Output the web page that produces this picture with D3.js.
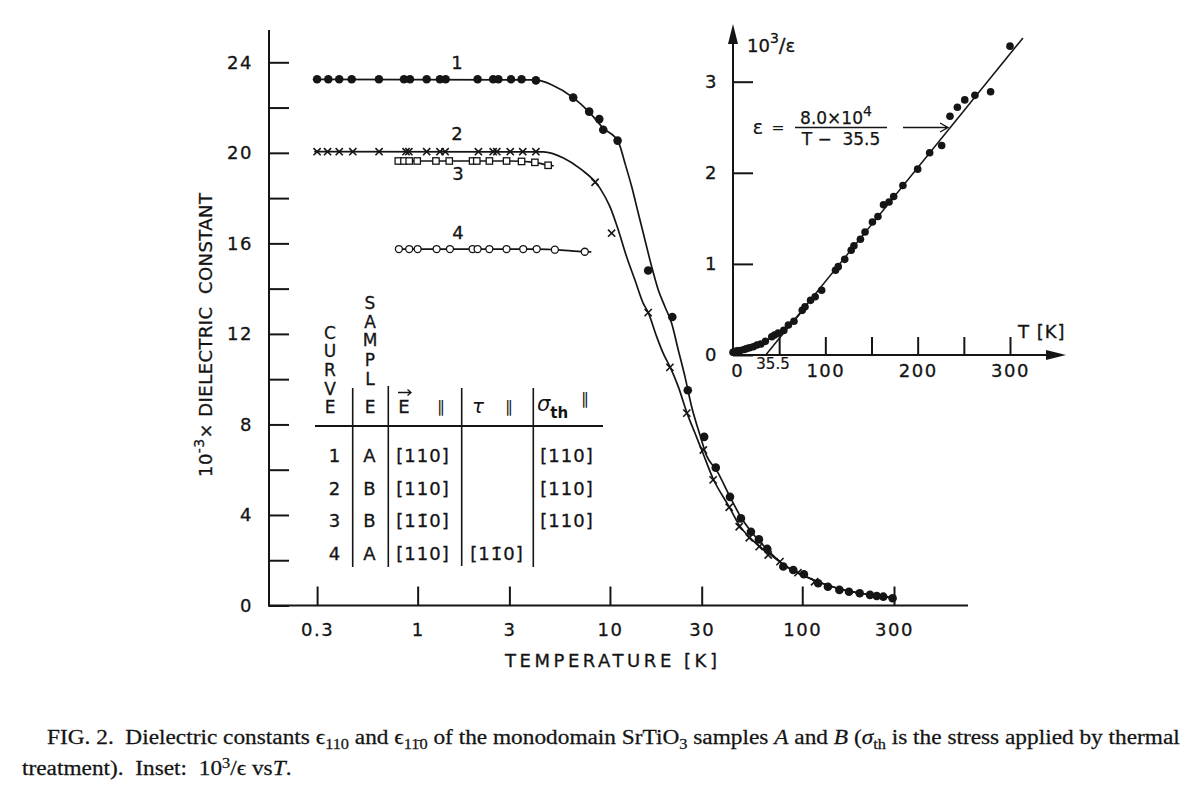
<!DOCTYPE html>
<html><head><meta charset="utf-8">
<script src="https://cdn.jsdelivr.net/npm/d3@7"></script>
<style>
body{margin:0;background:#fff}
svg{display:block}
text{font-family:"DejaVu Sans",sans-serif;fill:#141414;white-space:pre}
</style>
</head><body>
<svg id="c" width="1200" height="796"></svg>
<script>
// ---------------- DATA ----------------
const xTickValues = [0.3, 1, 3, 10, 30, 100, 300];
const xTickLabels = ["0.3", "1", "3", "10", "30", "100", "300"];
const yTickValues = [0, 4, 8, 12, 16, 20, 24];
const yMinorTicks = [2, 6, 10, 14, 18, 22];

// curve 1 (sample A, filled dots): [T (K), 10^-3 eps]
const curve1Points = [[0.30,23.25],[0.343,23.25],[0.391,23.25],[0.454,23.25],[0.629,23.25],[0.849,23.25],[0.912,23.25],[1.114,23.25],[1.306,23.25],[1.398,23.25],[2.05,23.25],[2.47,23.25],[2.63,23.25],[3.06,23.25],[3.47,23.25],[4.12,23.2],
  [6.44,22.44],[7.80,21.82],[8.80,21.49],[9.23,21.02],[10.96,20.54],[15.8,14.80],[21.1,12.75],[25.4,9.51],[30.9,7.45],[35.5,6.09],[42.1,4.80],[48.0,3.85],[54.1,3.26],[59.5,2.92],[65.8,2.50],[79.7,1.72],[89.8,1.57],[102,1.38],[121,0.98],[136,0.83],[156,0.69],[175,0.61],[199,0.54],[225,0.47],[244,0.42],[264,0.39],[295,0.32]];
const curve1Line = [[0.29,23.25],[4.1,23.22],[5.0,23.0],[6.44,22.44],[7.8,21.8],[9.23,21.09],[11.05,20.49],[11.97,19.54],[12.97,18.51],[14.04,17.33],[15.21,16.15],[16.48,14.97],[17.84,13.94],[19.32,13.2],[20.93,12.47],[22.66,11.29],[24.55,10.11],[26.6,8.78],[29.4,7.53],[31.8,6.62],[36,5.95],[42,4.82],[48,3.9],[55,3.2],[65,2.52],[80,1.8],[100,1.35],[130,0.95],[170,0.66],[220,0.49],[300,0.34]];

// curve 2 (sample B, crosses)
const curve2Points = [[0.30,20.05],[0.34,20.05],[0.391,20.05],[0.46,20.05],[0.63,20.05],[0.87,20.05],[0.90,20.05],[1.114,20.05],[1.306,20.05],[1.39,20.05],[2.07,20.05],[2.47,20.05],[2.58,20.05],[3.03,20.05],[3.52,20.05],[4.12,20.05],
  [8.37,18.70],[10.2,16.45],[15.8,12.94],[20.5,10.52],[25.1,8.5],[30.6,6.87],[34.4,5.55],[41.7,4.34],[47.0,3.48],[53.0,2.99],[59.7,2.60],[66.5,2.23],[76.6,1.94],[95,1.45],[116,1.05]];
const curve2Line = [[0.29,20.05],[4.5,20.04],[5.73,19.77],[7,19.3],[8.87,18.44],[10,17.62],[11.05,16.59],[12.21,15.41],[13.49,14.38],[14.9,13.35],[15.82,12.94],[17.49,11.88],[18.93,11.14],[20.51,10.55],[22.66,9.67],[25.2,8.49],[27.7,7.61],[30,6.87],[34.4,5.6],[41.7,4.36],[47,3.55],[53,3.02],[60,2.62],[67,2.3],[80,1.8],[100,1.35],[130,0.95],[170,0.66],[220,0.49],[300,0.34]];

// curve 3 (sample B, open squares)
const curve3Points = [[0.793,19.64],[0.849,19.64],[0.904,19.64],[0.995,19.64],[1.245,19.64],[1.46,19.64],[1.93,19.64],[2.03,19.64],[2.36,19.64],[2.90,19.64],[3.47,19.62],[4.07,19.58],[4.77,19.45]];
const curve3Line = [[0.79,19.64],[3.0,19.64],[4.07,19.58],[4.77,19.45],[5.1,19.42]];

// curve 4 (sample A, open circles)
const curve4Points = [[0.799,15.75],[0.904,15.75],[1.0,15.75],[1.255,15.75],[1.472,15.75],[1.93,15.75],[2.05,15.75],[2.36,15.75],[2.90,15.75],[3.54,15.75],[4.16,15.75],[5.17,15.72],[7.40,15.63]];
const curve4Line = [[0.79,15.75],[4.2,15.75],[5.17,15.72],[7.4,15.63],[8.0,15.62]];

const curveLabels = ["1", "2", "3", "4"];
const curveLabelPos = [[1.6,24.0],[1.6,20.85],[1.62,19.1],[1.62,16.5]];

// inset: 10^3/eps vs T
const insetT = [0,3,5,8,12,15,18,22,26,30,35,42,45,49,55,60,66,75,78,84,89,96,111,114,121,128,131,138,143,151,157,163,169,174,184,200,213,226,235,243,251,262,279,300];
const insetV = [0.03,0.04,0.045,0.05,0.06,0.07,0.08,0.09,0.11,0.12,0.15,0.20,0.22,0.24,0.27,0.33,0.37,0.49,0.53,0.60,0.64,0.71,0.93,0.97,1.05,1.15,1.20,1.27,1.35,1.46,1.52,1.65,1.68,1.74,1.86,2.04,2.22,2.30,2.62,2.72,2.80,2.85,2.89,3.39];
const insetLowCurve = [[0,0.03],[10,0.05],[20,0.085],[30,0.13],[40,0.18],[50,0.245],[60,0.32],[70,0.42],[80,0.556]];
const insetFit = [[35.5,0],[314,3.48]];
const insetXTicks = [50,100,150,200,250,300];
const insetXLabels = {100:"100",200:"200",300:"300"};
const insetYTicks = [0,1,2,3];

// table
const tableCurve = ["1","2","3","4"];
const tableSample = ["A","B","B","A"];
const tableE = ["[110]","[110]","[11\u03040]","[110]"];
const tableTau = ["","","","[11\u03040]"];
const tableSigma = ["[110]","[110]","[110]",""];

// ---------------- DRAW ----------------
const ink = "#151515";
const svg = d3.select("#c");
svg.append("rect").attr("width",1200).attr("height",796).attr("fill","#fff");

const X = d3.scaleLog().domain([0.3,300]).range([317.1,894.0]);
const Y = d3.scaleLinear().domain([0,24]).range([605.5,62.3]);
const AX = 269, AY = 605.5;

svg.append("line").attr("x1",AX).attr("x2",AX).attr("y1",30).attr("y2",AY+1).attr("stroke",ink).attr("stroke-width",2);
svg.append("line").attr("x1",AX-1).attr("x2",968).attr("y1",AY).attr("y2",AY).attr("stroke",ink).attr("stroke-width",2);

function styleAxis(g, fs){
  g.select(".domain").remove();
  g.selectAll(".tick line").attr("stroke",ink).attr("stroke-width",2);
  g.selectAll(".tick text").attr("font-size",fs).attr("font-family","'DejaVu Sans',sans-serif").attr("fill",ink)
    .attr("letter-spacing",1.5).attr("stroke",ink).attr("stroke-width",0.3);
}
const gy = svg.append("g").attr("transform",`translate(${AX},0)`)
  .call(d3.axisLeft(Y).tickValues(yTickValues).tickSizeInner(-20).tickSizeOuter(0).tickPadding(16).tickFormat(d3.format("d")));
styleAxis(gy,18);
const gy2 = svg.append("g").attr("transform",`translate(${AX},0)`)
  .call(d3.axisLeft(Y).tickValues(yMinorTicks).tickSizeInner(-20).tickSizeOuter(0).tickFormat(""));
styleAxis(gy2,18);
const gx = svg.append("g").attr("transform",`translate(0,${AY})`)
  .call(d3.axisBottom(X).tickValues(xTickValues).tickSizeInner(-19).tickSizeOuter(0).tickPadding(18)
    .tickFormat((d,i)=>xTickLabels[i]));
styleAxis(gx,18);

svg.append("text").attr("x",611).attr("y",667).attr("text-anchor","middle").attr("font-size",18)
  .attr("stroke",ink).attr("stroke-width",0.3)
  .attr("textLength",212).attr("lengthAdjust","spacing").text("TEMPERATURE [K]");
const yl = svg.append("text").attr("transform","translate(212,335) rotate(-90)").attr("text-anchor","middle")
  .attr("font-size",18).attr("stroke",ink).attr("stroke-width",0.3).attr("textLength",284).attr("lengthAdjust","spacing");
yl.append("tspan").text("10");
yl.append("tspan").attr("font-size",14).attr("baseline-shift","8").text("-3");
yl.append("tspan").text("\u00d7 DIELECTRIC  CONSTANT");

// curves
const lineMain = d3.line().x(d=>X(d[0])).y(d=>Y(d[1])).curve(d3.curveMonotoneX);
[curve1Line,curve2Line,curve3Line,curve4Line].forEach(L=>{
  svg.append("path").attr("d",lineMain(L)).attr("fill","none").attr("stroke",ink).attr("stroke-width",1.7);
});
svg.append("g").selectAll("circle").data(curve1Points).join("circle")
  .attr("cx",d=>X(d[0])).attr("cy",d=>Y(d[1])).attr("r",4.3).attr("fill",ink);
svg.append("g").selectAll("path").data(curve2Points).join("path")
  .attr("d",d=>{const x=X(d[0]),y=Y(d[1]),s=3.6;return `M${x-s},${y-s}L${x+s},${y+s}M${x-s},${y+s}L${x+s},${y-s}`;})
  .attr("stroke",ink).attr("stroke-width",1.6).attr("fill","none");
svg.append("g").selectAll("rect").data(curve3Points).join("rect")
  .attr("x",d=>X(d[0])-3.2).attr("y",d=>Y(d[1])-3.2).attr("width",6.4).attr("height",6.4)
  .attr("fill","#fff").attr("stroke",ink).attr("stroke-width",1.3);
svg.append("g").selectAll("circle").data(curve4Points).join("circle")
  .attr("cx",d=>X(d[0])).attr("cy",d=>Y(d[1])).attr("r",3.5)
  .attr("fill","#fff").attr("stroke",ink).attr("stroke-width",1.3);
svg.append("g").selectAll("text").data(curveLabels).join("text")
  .attr("x",(d,i)=>X(curveLabelPos[i][0])).attr("y",(d,i)=>Y(curveLabelPos[i][1])+6.5)
  .attr("text-anchor","middle").attr("font-size",18).attr("stroke",ink).attr("stroke-width",0.3).text(d=>d);

// ---------------- TABLE ----------------
const tb = svg.append("g");
function vert(word, x, ys){
  const t = tb.append("text").attr("text-anchor","middle").attr("font-size",17).attr("stroke",ink).attr("stroke-width",0.3);
  word.split("").forEach((ch,i)=>t.append("tspan").attr("x",x).attr("y",ys[i]+6.2).text(ch));
}
vert("CURVE",330,[333,351,369.5,388.5,407]);
vert("SAMPLE",370,[303,321.5,340,359.5,379,407]);
[[352.7,388,567],[388.3,386,567],[461.7,388,566],[533.3,388,567]].forEach(v=>
  tb.append("line").attr("x1",v[0]).attr("x2",v[0]).attr("y1",v[1]).attr("y2",v[2]).attr("stroke",ink).attr("stroke-width",1.6));
tb.append("line").attr("x1",315).attr("x2",603).attr("y1",426).attr("y2",426).attr("stroke",ink).attr("stroke-width",1.8);
tb.append("text").attr("x",404).attr("y",413).attr("text-anchor","middle").attr("font-size",18).attr("stroke",ink).attr("stroke-width",0.3).text("E");
tb.append("path").attr("d","M398,392.5H411M407.5,389.5L411,392.5L407.5,395.5").attr("stroke",ink).attr("stroke-width",1.3).attr("fill","none");
tb.append("text").attr("x",441).attr("y",412).attr("text-anchor","middle").attr("font-size",16).text("\u2225");
tb.append("text").attr("x",478).attr("y",413).attr("text-anchor","middle").attr("font-size",20).attr("font-style","italic").text("\u03c4");
tb.append("text").attr("x",509).attr("y",412).attr("text-anchor","middle").attr("font-size",16).text("\u2225");
const sg = tb.append("text").attr("x",537).attr("y",411).attr("font-size",21).attr("font-style","italic");
sg.append("tspan").text("\u03c3");
sg.append("tspan").attr("font-size",15).attr("font-style","normal").attr("font-weight","bold").attr("dy",7).text("th");
tb.append("text").attr("x",585).attr("y",404).attr("text-anchor","middle").attr("font-size",16).text("\u2225");
const rowY = [455,488.3,520,553.3];
const cols = [[tableCurve,335],[tableSample,370],[tableE,423],[tableTau,497],[tableSigma,567]];
cols.forEach(([arr,x])=>{
  tb.append("g").selectAll("text").data(arr).join("text")
    .attr("x",x).attr("y",(d,i)=>rowY[i]+6.5).attr("text-anchor","middle").attr("font-size",18)
    .attr("stroke",ink).attr("stroke-width",0.3).attr("letter-spacing",1).text(d=>d);
});

// ---------------- INSET ----------------
const XI = d3.scaleLinear().domain([0,300]).range([733,1010]);
const YI = d3.scaleLinear().domain([0,3]).range([355,81.7]);
const IX = 733, IY = 355;
svg.append("line").attr("x1",IX).attr("x2",IX).attr("y1",IY+1).attr("y2",40).attr("stroke",ink).attr("stroke-width",2);
svg.append("path").attr("d",`M${IX},24L${IX-5},44L${IX+5},44Z`).attr("fill",ink);
svg.append("line").attr("x1",IX-1).attr("x2",1050).attr("y1",IY).attr("y2",IY).attr("stroke",ink).attr("stroke-width",2);
svg.append("path").attr("d",`M1066,${IY}L1046,${IY-5}L1046,${IY+5}Z`).attr("fill",ink);

const giy = svg.append("g").attr("transform",`translate(${IX},0)`)
  .call(d3.axisLeft(YI).tickValues(insetYTicks).tickSizeInner(-20).tickSizeOuter(0).tickPadding(15).tickFormat(d3.format("d")));
styleAxis(giy,18);
const gix = svg.append("g").attr("transform",`translate(0,${IY})`)
  .call(d3.axisBottom(XI).tickValues(insetXTicks).tickSizeInner(-18).tickSizeOuter(0).tickPadding(9)
    .tickFormat(d=>insetXLabels[d]||""));
styleAxis(gix,18);
svg.append("text").attr("x",XI(0)+4).attr("y",377).attr("text-anchor","middle").attr("font-size",18).attr("stroke",ink).attr("stroke-width",0.3).text("0");
svg.append("text").attr("x",XI(0)+40).attr("y",369).attr("text-anchor","middle").attr("font-size",15).attr("stroke",ink).attr("stroke-width",0.2).text("35.5");

const lineIn = d3.line().x(d=>XI(d[0])).y(d=>YI(d[1]));
svg.append("path").attr("d",lineIn(insetFit)).attr("fill","none").attr("stroke",ink).attr("stroke-width",1.5);
svg.append("path").attr("d",lineIn.curve(d3.curveMonotoneX)(insetLowCurve)).attr("fill","none").attr("stroke",ink).attr("stroke-width",1.5);
svg.append("g").selectAll("circle").data(insetT).join("circle")
  .attr("cx",d=>XI(d)).attr("cy",(d,i)=>YI(insetV[i])).attr("r",3.8).attr("fill",ink);

const il = svg.append("text").attr("x",747).attr("y",52).attr("font-size",18).attr("stroke",ink).attr("stroke-width",0.3);
il.append("tspan").text("10");
il.append("tspan").attr("font-size",14).attr("dy",-9).text("3");
il.append("tspan").attr("dy",9).attr("font-size",20).text("/");
il.append("tspan").attr("font-size",18).text("\u03b5");
svg.append("text").attr("x",1018).attr("y",338).attr("font-size",18).attr("letter-spacing",1).attr("stroke",ink).attr("stroke-width",0.3).text("T [K]");

svg.append("text").attr("x",758).attr("y",134).attr("text-anchor","middle").attr("font-size",20).text("\u03b5");
svg.append("text").attr("x",778).attr("y",133).attr("text-anchor","middle").attr("font-size",16).text("=");
const num = svg.append("text").attr("x",836).attr("y",124).attr("text-anchor","middle").attr("font-size",17).attr("stroke",ink).attr("stroke-width",0.25);
num.append("tspan").text("8.0\u00d710");
num.append("tspan").attr("font-size",14).attr("dy",-8).text("4");
svg.append("line").attr("x1",795).attr("x2",887).attr("y1",127.5).attr("y2",127.5).attr("stroke",ink).attr("stroke-width",1.5);
svg.append("text").attr("x",841).attr("y",145).attr("text-anchor","middle").attr("font-size",17).attr("stroke",ink).attr("stroke-width",0.25).text("T \u2212  35.5");
svg.append("path").attr("d","M903,127.5H948M940,123L948,127.5L940,132").attr("fill","none").attr("stroke",ink).attr("stroke-width",1.4);

// ---------------- CAPTION ----------------
const cap1 = [["FIG. 2.  Dielectric constants ",""],["\u03f5",""],["110","sub"],[" and ",""],["\u03f5",""],["11\u03040","sub"],[" of the monodomain SrTiO",""],["3","sub"],[" samples ",""],["A","i"],[" and ",""],["B","i"],[" (",""],["\u03c3","i"],["th","sub"],[" is the stress applied by thermal",""]];
const cap2 = [["treatment).  Inset:  10",""],["3","sup"],["/\u03f5 vs",""],["T","i"],[".",""]];
function caption(parts){
  const t = svg.append("text").attr("y",0).attr("font-family","'Liberation Serif',serif").attr("font-size",20)
    .attr("stroke",ink).attr("stroke-width",0.25);
  parts.forEach(([s,k])=>{
    const sp = t.append("tspan").text(s).style("font-family","'Liberation Serif',serif");
    if(k==="sub") sp.attr("font-size",14).attr("baseline-shift","-5");
    if(k==="sup") sp.attr("font-size",14).attr("baseline-shift","7");
    if(k==="i") sp.attr("font-style","italic");
  });
  return t;
}
const c1 = caption(cap1), c2 = caption(cap2);
const w1 = c1.node().getComputedTextLength();
const sx = 1133 / w1;
c1.attr("transform",`translate(47,744) scale(${sx},1)`);
c2.attr("transform",`translate(22,775) scale(${sx},1)`);
</script>
</body></html>
